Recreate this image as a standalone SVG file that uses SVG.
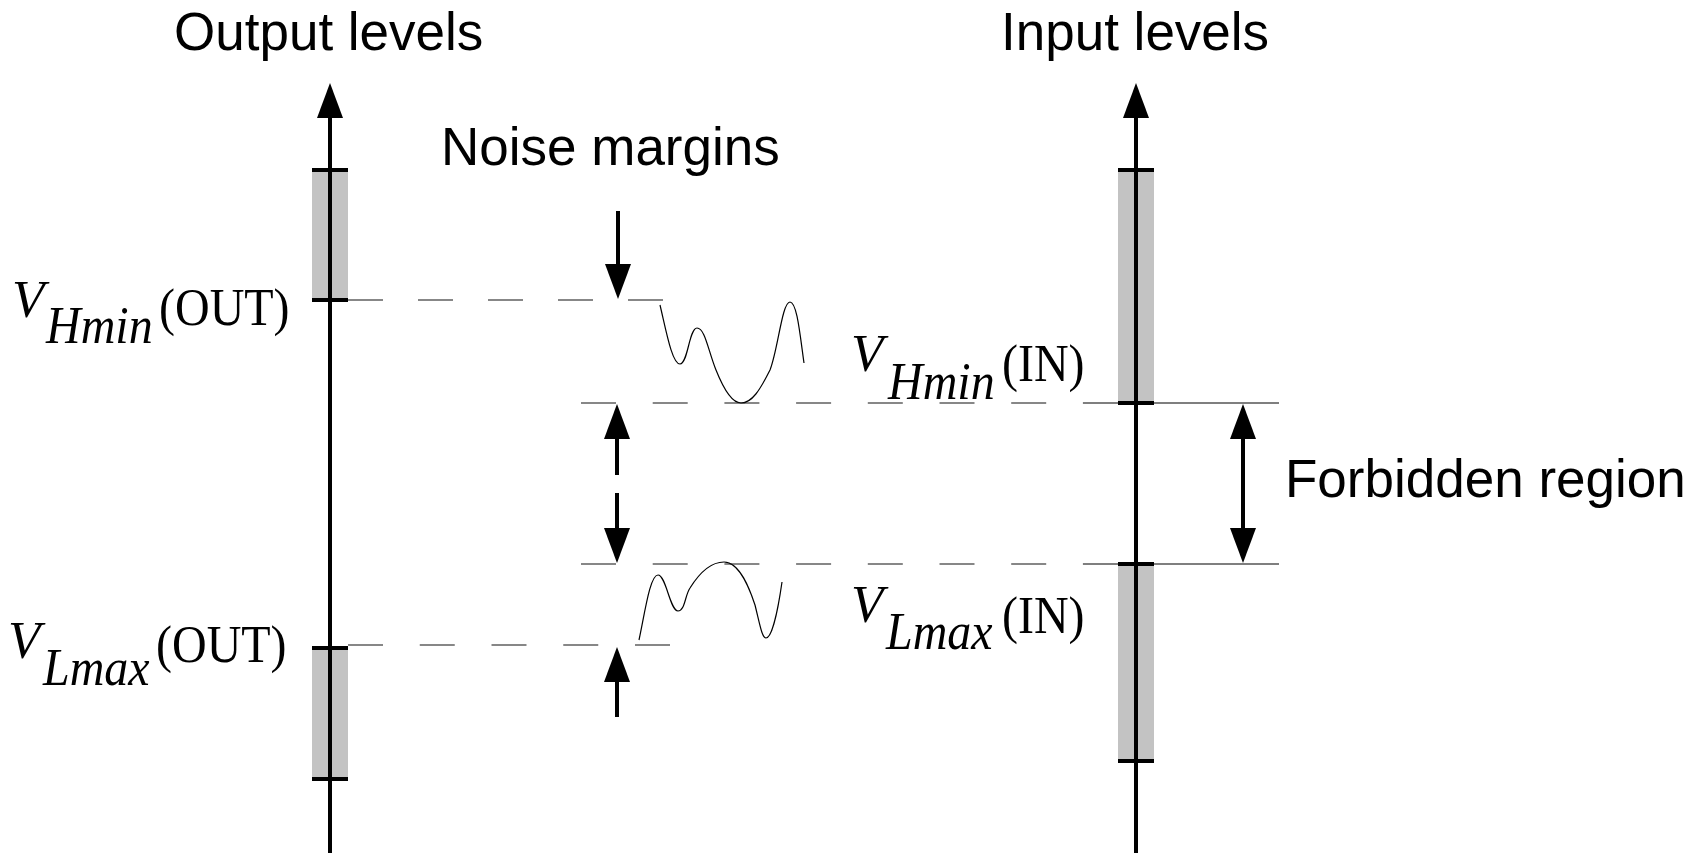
<svg xmlns="http://www.w3.org/2000/svg" width="1705" height="853" viewBox="0 0 1705 853">
<style>
.sans{font-family:"Liberation Sans",Arial,sans-serif;font-size:53px;fill:#000}
.ser{font-family:"Liberation Serif","Times New Roman",serif;font-size:48px;fill:#000}
.big{font-size:53px}
.it{font-style:italic}
.axis{stroke:#000;stroke-width:4;fill:none}
.tick{stroke:#000;stroke-width:4}
.band{fill:#c3c3c3}
.dash{stroke:#111;stroke-width:1.1;fill:none}
.thin{stroke:#000;stroke-width:1.2;fill:none}
.wave{stroke:#000;stroke-width:1.2;fill:none}
</style>
<defs>
<marker id="ah" viewBox="0 0 35 26" refX="1" refY="13" markerWidth="35" markerHeight="26" markerUnits="userSpaceOnUse" orient="auto">
<path d="M0,0 L35,13 L0,26 z" fill="#000"/>
</marker>
</defs>

<g id="output-axis">
<rect class="band" x="312" y="170" width="36" height="130"/>
<rect class="band" x="312" y="648" width="36" height="131"/>
<line class="axis" x1="330" y1="853" x2="330" y2="117" marker-end="url(#ah)"/>
<line class="tick" x1="312" y1="170" x2="348" y2="170"/>
<line class="tick" x1="312" y1="300" x2="348" y2="300"/>
<line class="tick" x1="312" y1="648" x2="348" y2="648"/>
<line class="tick" x1="312" y1="779" x2="348" y2="779"/>
<text class="sans" x="174" y="50">Output levels</text>
</g>

<g id="input-axis">
<rect class="band" x="1118" y="170" width="36" height="233"/>
<rect class="band" x="1118" y="564" width="36" height="197"/>
<line class="axis" x1="1136" y1="853" x2="1136" y2="117" marker-end="url(#ah)"/>
<line class="tick" x1="1118" y1="170" x2="1154" y2="170"/>
<line class="tick" x1="1118" y1="403" x2="1154" y2="403"/>
<line class="tick" x1="1118" y1="564" x2="1154" y2="564"/>
<line class="tick" x1="1118" y1="761" x2="1154" y2="761"/>
<text class="sans" x="1001" y="50">Input levels</text>
</g>

<g id="label-vhmin-out">
<text class="ser it big" x="12" y="317">V</text>
<text class="ser it" transform="translate(46,343) scale(1,1.1)">Hmin</text>
<text class="ser" transform="translate(159,325) scale(1,1.1)">(OUT)</text>
</g>
<g id="label-vlmax-out">
<text class="ser it big" x="8" y="658">V</text>
<text class="ser it" transform="translate(43,685) scale(1,1.1)">Lmax</text>
<text class="ser" transform="translate(156,662) scale(1,1.1)">(OUT)</text>
</g>
<g id="label-vhmin-in">
<text class="ser it big" x="851" y="371">V</text>
<text class="ser it" transform="translate(888,399) scale(1,1.1)">Hmin</text>
<text class="ser" transform="translate(1002,381) scale(1,1.1)">(IN)</text>
</g>
<g id="label-vlmax-in">
<text class="ser it big" x="851" y="622">V</text>
<text class="ser it" transform="translate(886,649) scale(1,1.1)">Lmax</text>
<text class="ser" transform="translate(1002,633) scale(1,1.1)">(IN)</text>
</g>
<g id="label-noise">
<text class="sans" x="441" y="165">Noise margins</text>
</g>
<g id="label-forbidden">
<text class="sans" x="1285" y="497">Forbidden region</text>
</g>

<g id="waves">
<path class="wave" d="M660,305 C666,330 672,364 680,364 C688,364 689,328 697,328 C705,328 708,350 716,370 C724,390 732,403 741,403 C752,403 760,390 770,370 C778,350 782,302 790,302 C797,302 800,335 804,363"/>
<path class="wave" d="M639,640 C645,612 650,575 658,575 C666,575 670,611 678,611 C685,611 685,595 690,588 C700,572 712,562 724,562 C740,562 750,590 755,605 C760,625 762,638 766,638 C772,638 778,610 782,582"/>
</g>

<g id="connectors">
<line class="dash" x1="348" y1="300" x2="666" y2="300" stroke-dasharray="35 35"/>
<line class="dash" x1="348" y1="645" x2="671" y2="645" stroke-dasharray="35 36.75"/>
<line class="dash" x1="581" y1="403" x2="1083" y2="403" stroke-dasharray="35 36.7"/>
<line class="dash" x1="581" y1="564" x2="1083" y2="564" stroke-dasharray="35 36.7"/>
<line class="thin" x1="1083" y1="403" x2="1279" y2="403"/>
<line class="thin" x1="1083" y1="564" x2="1279" y2="564"/>
<line class="axis" x1="618" y1="211" x2="618" y2="265" marker-end="url(#ah)"/>
<line class="axis" x1="617" y1="717" x2="617" y2="681" marker-end="url(#ah)"/>
<line class="axis" x1="617" y1="475" x2="617" y2="438" marker-end="url(#ah)"/>
<line class="axis" x1="617" y1="493" x2="617" y2="529" marker-end="url(#ah)"/>
<line class="axis" x1="1243" y1="483" x2="1243" y2="438" marker-end="url(#ah)"/>
<line class="axis" x1="1243" y1="483" x2="1243" y2="529" marker-end="url(#ah)"/>
</g>
</svg>
